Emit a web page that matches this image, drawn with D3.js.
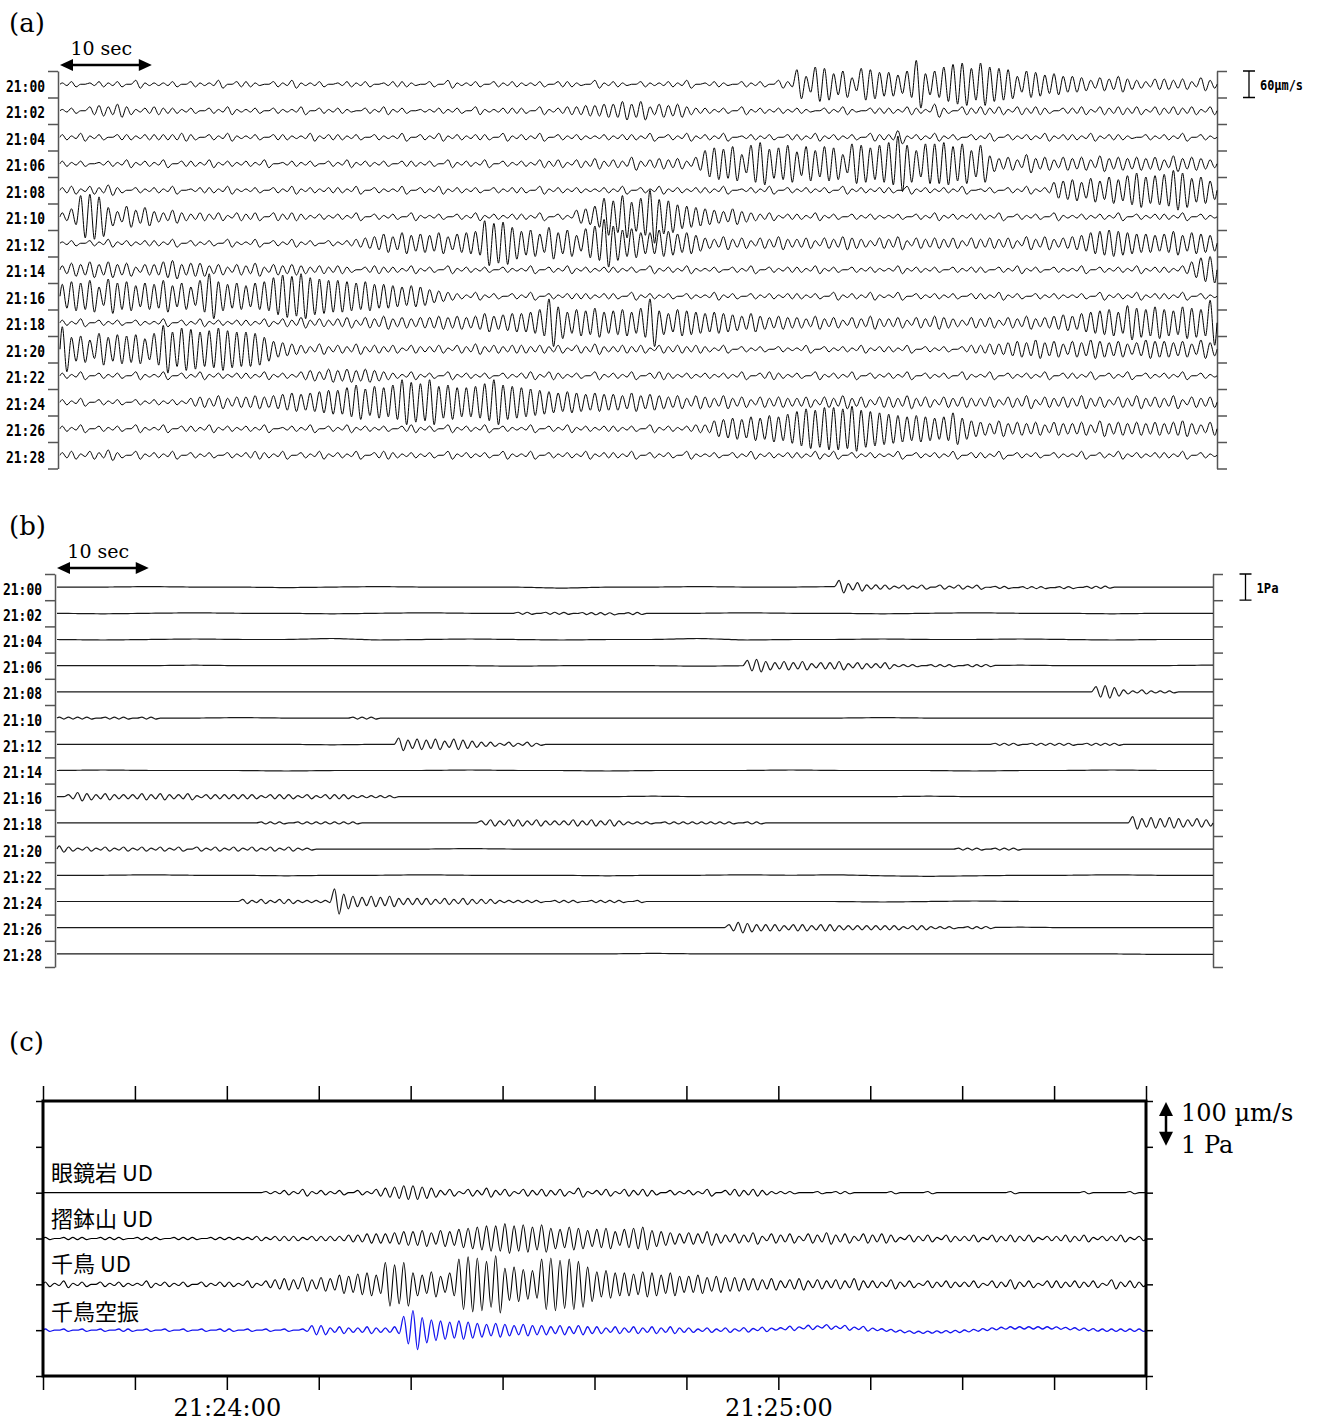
<!DOCTYPE html>
<html>
<head>
<meta charset="utf-8">
<script src="https://cdn.jsdelivr.net/npm/d3@7/dist/d3.min.js"></script>
<style>
body { margin: 0; background: #fff; }
.mono { font-family: "DejaVu Sans Mono", monospace; font-weight: bold; }
.serif { font-family: "DejaVu Serif", serif; }
.jp { font-family: "Noto Sans CJK JP", sans-serif; }
</style>
</head>
<body>
<svg width="1319" height="1423"></svg>
<script>
// one character = one wave cycle of one second; its value is the peak amplitude
// (0-9, then a=10 ... z=35)
var rowLabels = ["21:00", "21:02", "21:04", "21:06", "21:08", "21:10", "21:12", "21:14",
                 "21:16", "21:18", "21:20", "21:22", "21:24", "21:26", "21:28"];

// (a) seismic velocity, unit = 3 µm/s
var seisRows = [
  "1201212031 1120211302 2102131120 1212012210 2031120212 1120221031 2102112130 1210212032 b6dc8a5cb9 97ai8adfgc gdcb6a9786 6535464324 434253",
  "1203435312 3221202131 1202113021 2102131201 1212031122 2031233445 5757354532 2120312121 2102131022 2132152032 3231323202 2313232313 232313",
  "2131202212 2223202131 1202211312 2120211302 1312122031 2130212112 1221302131 2130121202 2131212032 2512131202 1302121312 2131221021 213021",
  "2120121312 1302213121 2130121202 1312120221 2031213021 2132313242 3252343425 acbd7egbce 9dadc7fece gleaffgdfa e645374535 4536454545 364543",
  "2313242021 2130122131 1202131212 2130211302 1312120212 2031212112 1302131212 2130121302 1212031212 2031212130 1202131267 8697a8bdab cfd9a7",
  "36ghf74857 4353232313 2303232121 2130212031 1202131212 213021568e cgbekdc987 6546432312 2131202121 1202131212 2130212031 1212130212 213021",
  "1202131212 2130212031 1302131202 1234575867 685789hfgc 9a7c8a6bdi dab88a9786 4353424353 3424354324 3524343424 3434253534 5689a98776 796876",
  "3546464524 4674553424 3524343232 3202322131 2031212021 1302131212 2120312131 1202130212 2131202121 1312120212 2021312021 1302121312 21369a",
  "9bac7dab8a 9c8a7chb9a 8abegfhedc cbab998787 5432131202 1302122212 2031212021 1312021212 2120312131 1302121202 2131202121 1203121312 213021",
  "2130212021 1302131212 2131324232 3424353434 4545457567 78aic8a9b8 9a8bi97a98 7876575454 4353424353 3424354324 3424353456 5789a8dbac a9cbah",
  "h9a7c9bab8 cidgfdeged dc96543242 3242323132 2313242323 3232313242 2323132323 2130212021 1302121312 2130212023 3445657564 6576564576 656475",
  "2130212031 1302131212 2131213435 4545432131 2031212021 2313212031 2130232121 2121302321 2031213021 2130212031 1302121302 2130213021 213021",
  "2130212021 2121343534 4545676789 9bdacbdhfe hcdbbcehdc ba98787676 6575654535 4353424343 3424353424 4353424343 3424352434 3534243534 352434",
  "2130212031 1302213121 2130121302 1312120231 2031213021 1302131212 2120312123 3678798a9b dfeggfhedc ba9a989c86 5464545354 4536454545 456435",
  "2313242031 2130212021 2321302131 2130232121 2031212031 1302121312 2130212031 1202131212 2131302121 1302121302 2130212021 1302131212 213021"
];

// (b) infrasound pressure, unit = 0.04 Pa
var airRows = [
  "0000000000 0000000000 0000000000 0000000000 0000000000 0000000000 0000000000 0000000000 0000063422 2121202121 2011011101 1011100000 000000",
  "0000000000 0000000000 0000000000 0000000000 0000000000 1101110111 1011000000 0000000000 0000000000 0000000000 0000000000 0000000000 000000",
  "0000000000 0000000000 0000000000 0000000000 0000000000 0000000000 0000000000 0000000000 0000000000 0000000000 0000000000 0000000000 000000",
  "0000000000 0000000000 0000000000 0000000000 0000000000 0000000000 0000000000 0000056434 3423342322 3111011101 1100000000 0000000000 000000",
  "0000000000 0000000000 0000000000 0000000000 0000000000 0000000000 0000000000 0000000000 0000000000 0000000000 0000000000 0005642121 110000",
  "1111011101 1000000000 0000000000 0011100000 0000000000 0000000000 0000000000 0000000000 0000000000 0000000000 0000000000 0000000000 000000",
  "0000000000 0000000000 0000000000 0000000645 4535432212 1210000000 0000000000 0000000000 0000000000 0000000000 0011101111 1011110000 000000",
  "0000000000 0000000000 0000000000 0000000000 0000000000 0000000000 0000000000 0000000000 0000000000 0000000000 0000000000 0000000000 000000",
  "0243232223 2322312222 2212221212 2211111000 0000000000 0000000000 0000000000 0000000000 0000000000 0000000000 0000000000 0000000000 000000",
  "0000000000 0000000000 0011101111 1110000000 0000002323 3232223232 3211101111 1111011000 0000000000 0000000000 0000000000 0000000645 454343",
  "3212121212 1212021212 1212121100 0000000000 0000000000 0000000000 0000000000 0000000000 0000000000 0000000011 1011100000 0000000000 000000",
  "0000000000 0000000000 0000000000 0000000000 0000000000 0000000000 0000000000 0000000000 0000000000 0000000000 0000000000 0000000000 000000",
  "0000000000 0000000000 2121221111 c754545333 3232322211 1110111011 1101000000 0000000000 0000000000 0000000000 0000000000 0000000000 000000",
  "0000000000 0000000000 0000000000 0000000000 0000000000 0000000000 0000000000 0003543332 3323322222 2212211101 1100000000 0000000000 000000",
  "0000000000 0000000000 0000000000 0000000000 0000000000 0000000000 0000000000 0000000000 0000000000 0000000000 0000000000 0000000000 000000"
];

// (b) slow baseline wander every 5 s, unit = 0.02 Pa
var airDrift = [
  [0,0,1,0,0,-1,0,1,0,0,0,-2,0,0,1,0,0,1,0,0,0,-1,-1,0,0,0],
  [0,-1,0,1,0,0,-1,0,1,0,0,0,-1,0,0,1,0,0,-1,0,1,0,0,-1,0,0],
  [0,-1,0,1,0,0,2,-1,0,1,0,-1,0,0,2,-1,0,0,1,0,0,1,0,-1,0,0],
  [0,0,0,1,0,0,0,0,0,0,-1,0,0,0,-1,0,0,0,0,0,0,1,0,0,0,1],
  [0,0,0,0,0,0,0,0,0,0,0,0,0,0,0,0,0,0,0,0,0,0,0,0,0,0],
  [0,0,0,0,1,0,0,0,0,0,0,0,0,0,0,0,0,0,1,0,0,0,0,0,0,0],
  [0,0,0,0,0,0,-1,0,0,0,0,0,0,0,0,0,0,0,0,0,0,0,0,0,0,0],
  [0,1,0,0,0,-1,0,0,0,1,0,0,-1,0,0,0,1,0,0,0,-1,0,0,1,0,0],
  [0,0,0,0,0,0,0,0,0,0,0,0,0,1,0,0,0,0,0,1,0,0,0,0,0,0],
  [0,0,0,0,0,0,0,0,0,0,0,0,0,0,0,0,0,0,0,0,0,0,0,0,0,0],
  [0,0,0,0,0,0,0,0,0,1,0,0,0,0,0,0,0,0,0,0,0,0,0,0,0,0],
  [0,0,1,0,0,-1,0,0,1,0,0,0,-1,0,0,1,0,1,-1,-2,-1,0,0,1,0,0],
  [0,0,0,0,0,0,0,0,0,0,0,0,0,0,0,0,0,0,-1,0,1,0,0,0,0,0],
  [0,0,0,0,0,0,0,0,0,0,0,0,0,0,0,0,0,0,0,0,0,1,0,0,0,0],
  [0,0,0,0,0,0,0,0,0,0,0,0,0,1,0,0,0,0,0,0,0,0,0,0,-1,-1]
];

// (c) 21:23:40 - 21:25:40, unit = 2.5 µm/s (UD) or 0.025 Pa (infrasound)
var stations = ["眼鏡岩 UD", "摺鉢山 UD", "千鳥 UD", "千鳥空振"];
var stationRows = [
  "0000000000 0000000000 0000112131 2120213456 6542313242 3132323141 2313232021 2130232321 1100101100 0010001000 0000010000 0001000010",
  "1011101110 1110111011 1112122212 2223344456 6757689abb dbcac98a97 89689a7654 5464343524 3424353424 3431323132 2313232312 2323122312",
  "2131202121 1312120212 2131345464 65879a8jhj a8b7amonkp efdcmnlmkf bcaa9ba8a7 7867665545 3453434353 3242313232 2313242313 3232314232",
  "1010101011 0101010101 1010101014 423223223c hb98787656 5454434343 3232323232 2121212121 1212121212 1111111111 1111111111 1111111111"
];
var stationColors = ["#000", "#000", "#000", "#1515f0"];
var airDriftC = [0,0,0,0,0,0,0,0,0,0,0,0,0,0,0,0,1,3,1,-2,-1,2,2,0,0];

var svg = d3.select("svg");
var code = "0123456789abcdefghijklmnopqrstuvwxyz";

// turn a cycle string into [t, value] points
function wavePoints(str, unit, drift, driftUnit) {
  var s = str.replace(/ /g, "");
  var d = function() { return 0; };
  if (drift) {
    d = d3.scaleLinear()
        .domain(drift.map(function(v, i) { return i * 5; }))
        .range(drift.map(function(v) { return v * driftUnit; }))
        .clamp(true);
  }
  var pts = [[0, d(0)]];
  for (var i = 0; i < s.length; i++) {
    var a = code.indexOf(s[i]) * unit;
    pts.push([i + 0.25, d(i + 0.25) + a]);
    pts.push([i + 0.75, d(i + 0.75) - a]);
  }
  pts.push([s.length, d(s.length)]);
  return pts;
}

function arrowH(g, x1, x2, y) {
  g.append("line").attr("x1", x1 + 8).attr("x2", x2 - 8).attr("y1", y).attr("y2", y)
      .attr("stroke", "#000").attr("stroke-width", 2.5);
  g.append("path").attr("d", "M" + x1 + "," + y + "l13,-6l0,12z");
  g.append("path").attr("d", "M" + x2 + "," + y + "l-13,-6l0,12z");
}

function recordPanel(opt) {
  var g = svg.append("g");
  var x = d3.scaleLinear().domain([0, 126]).range([opt.x0, opt.x1]);
  var y = d3.scaleLinear().domain([0, 15 * opt.rowH]).range([opt.y0, opt.y1]);
  var ticks = d3.range(0, 16).map(function(i) { return i * opt.rowH; });

  g.append("text").attr("class", "serif").attr("x", 9).attr("y", opt.y0 - 39)
      .attr("font-size", 26).text(opt.tag);
  g.append("text").attr("class", "serif").attr("x", x(4.5)).attr("y", opt.y0 - 16)
      .attr("text-anchor", "middle").attr("font-size", 19).text("10 sec");
  arrowH(g, x(0), x(10), opt.y0 - 6);

  g.append("g").attr("transform", "translate(" + (opt.x0 - 2) + ",0)")
      .call(d3.axisLeft(y).tickValues(ticks).tickSize(10).tickSizeOuter(0).tickFormat(""));
  g.append("g").attr("transform", "translate(" + opt.x1 + ",0)")
      .call(d3.axisRight(y).tickValues(ticks).tickSize(10).tickSizeOuter(0).tickFormat(""));
  g.selectAll(".domain, .tick line").attr("stroke", "#555").attr("stroke-width", 1.5);

  g.selectAll(".rowlab").data(rowLabels).enter().append("text")
      .attr("class", "mono")
      .attr("x", opt.labX).attr("y", function(d, i) { return y(i * opt.rowH + opt.rowH / 2) + 2; })
      .attr("text-anchor", "end").attr("dominant-baseline", "central")
      .attr("font-size", 16).attr("textLength", 39).attr("lengthAdjust", "spacingAndGlyphs")
      .text(function(d) { return d; });

  opt.rows.forEach(function(str, i) {
    var base = i * opt.rowH + opt.rowH / 2;
    var pts = wavePoints(str, opt.unit, opt.drift ? opt.drift[i] : null, opt.driftUnit);
    var line = d3.line()
        .x(function(p) { return x(p[0]); })
        .y(function(p) { return y(base - p[1]); })
        .curve(d3.curveMonotoneX);
    g.append("path").attr("d", line(pts)).attr("fill", "none")
        .attr("stroke", opt.color).attr("stroke-width", opt.lw);
  });

  // amplitude scale bar: one row spacing
  var sx = opt.barX;
  g.append("path").attr("fill", "none").attr("stroke", "#000").attr("stroke-width", 1.3)
      .attr("d", "M" + (sx - 6) + "," + y(0) + "h12M" + sx + "," + y(0) + "V" + y(opt.rowH) +
                 "M" + (sx - 6) + "," + y(opt.rowH) + "h12");
  g.append("text").attr("class", "mono").attr("x", sx + 11).attr("y", y(opt.rowH / 2) + 1)
      .attr("dominant-baseline", "central").attr("font-size", 14)
      .attr("textLength", opt.barTextW).attr("lengthAdjust", "spacingAndGlyphs")
      .text(opt.barText);
}

recordPanel({ tag: "(a)", rows: seisRows, unit: 3, rowH: 60, x0: 60, x1: 1217, y0: 71, y1: 468.5,
  labX: 45, color: "#000", lw: 1, barX: 1249, barText: "60µm/s", barTextW: 43 });
recordPanel({ tag: "(b)", rows: airRows, unit: 0.04, rowH: 1, drift: airDrift, driftUnit: 0.02,
  x0: 57, x1: 1213, y0: 574, y1: 967, labX: 42, color: "#1a1a1a", lw: 1.2,
  barX: 1245.5, barText: "1Pa", barTextW: 22 });

// ---- (c) ----
var gc = svg.append("g");
var t0 = new Date(2020, 0, 1, 21, 23, 40), t1 = new Date(2020, 0, 1, 21, 25, 40);
var xC = d3.scaleTime().domain([t0, t1]).range([43, 1146]);
var yC = d3.scaleLinear().domain([0, 6]).range([1101, 1376]); // 1 = 100 µm/s = 1 Pa

gc.append("text").attr("class", "serif").attr("x", 9).attr("y", 1051).attr("font-size", 26).text("(c)");

var every10 = d3.timeSecond.every(10);
gc.append("g").attr("transform", "translate(0," + yC(6) + ")")
    .call(d3.axisBottom(xC).ticks(every10).tickSize(14).tickPadding(9)
      .tickFormat(function(d) { return d.getSeconds() === 0 ? d3.timeFormat("%H:%M:%S")(d) : ""; }))
    .call(function(a) { a.select(".domain").remove(); })
    .selectAll("text").attr("class", "serif").attr("font-size", 24).attr("fill", "#000");
gc.append("g").attr("transform", "translate(0," + yC(0) + ")")
    .call(d3.axisTop(xC).ticks(every10).tickSize(15).tickFormat(""))
    .call(function(a) { a.select(".domain").remove(); });
gc.append("g").attr("transform", "translate(" + xC(t0) + ",0)")
    .call(d3.axisLeft(yC).ticks(6).tickSize(7).tickFormat(""))
    .call(function(a) { a.select(".domain").remove(); });
gc.append("g").attr("transform", "translate(" + xC(t1) + ",0)")
    .call(d3.axisRight(yC).ticks(6).tickSize(7).tickFormat(""))
    .call(function(a) { a.select(".domain").remove(); });
gc.selectAll(".tick line").attr("stroke", "#000").attr("stroke-width", 1.5);

stationRows.forEach(function(str, k) {
  var base = k + 2;
  var pts = wavePoints(str, 0.025, k === 3 ? airDriftC : null, 0.025);
  var line = d3.line()
      .x(function(p) { return xC(new Date(+t0 + p[0] * 1000)); })
      .y(function(p) { return yC(base - p[1]); })
      .curve(d3.curveMonotoneX);
  gc.append("path").attr("d", line(pts)).attr("fill", "none")
      .attr("stroke", stationColors[k]).attr("stroke-width", k === 3 ? 1.3 : 1.1);
  gc.append("text").attr("class", "jp").attr("x", 51).attr("y", yC(base) - (k === 3 ? 10 : 12))
      .attr("font-size", 22).text(stations[k]);
});

gc.append("rect").attr("x", 43).attr("y", yC(0)).attr("width", 1146 - 43).attr("height", yC(6) - yC(0))
    .attr("fill", "none").attr("stroke", "#000").attr("stroke-width", 3);

// 100 µm/s / 1 Pa scale arrow
var ax = 1166;
gc.append("line").attr("x1", ax).attr("x2", ax).attr("y1", yC(0) + 8).attr("y2", yC(1) - 8)
    .attr("stroke", "#000").attr("stroke-width", 2.5);
gc.append("path").attr("d", "M" + ax + "," + (yC(0) + 1) + "l-7,14h14z");
gc.append("path").attr("d", "M" + ax + "," + (yC(1) - 1) + "l-7,-14h14z");
gc.append("text").attr("class", "serif").attr("x", 1181).attr("y", 1121).attr("font-size", 24).text("100 µm/s");
gc.append("text").attr("class", "serif").attr("x", 1181).attr("y", 1153).attr("font-size", 24).text("1 Pa");
</script>
</body>
</html>
